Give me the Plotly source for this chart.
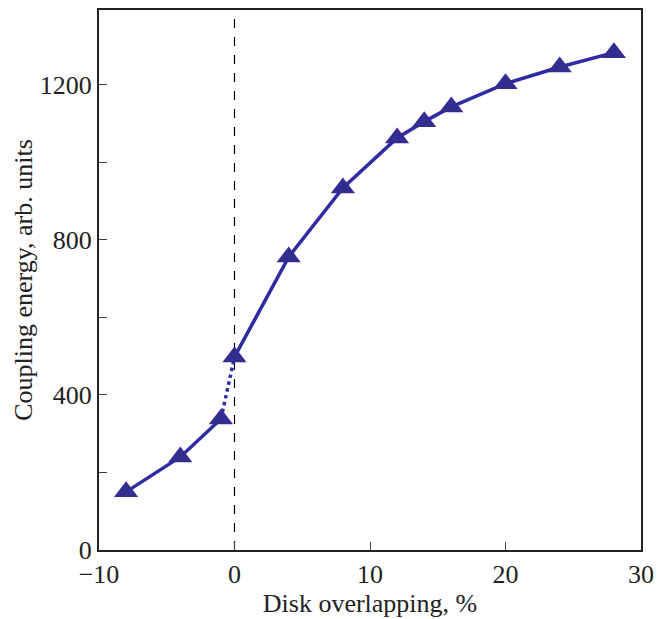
import plotly.graph_objects as go

overlap = [-8, -4, -1, 0, 4, 8, 12, 14, 16, 20, 24, 28]
energy = [150, 240, 338, 498, 756, 934, 1063, 1105, 1143, 1203, 1246, 1283]

x_ticks = [-10, 0, 10, 20, 30]
y_ticks = [0, 200, 400, 600, 800, 1000, 1200]
y_tick_text = ["0", "", "400", "", "800", "", "1200"]

line_color = "#2E2BA3"
marker_color = "#332D8F"

fig = go.Figure()
# left solid part (x <= -1)
fig.add_trace(go.Scatter(x=overlap[:3], y=energy[:3], mode="lines",
                         line=dict(color=line_color, width=3.5), showlegend=False))
# dotted connection (-1 to 0)
fig.add_trace(go.Scatter(x=overlap[2:4], y=energy[2:4], mode="lines",
                         line=dict(color=line_color, width=3.5, dash="dot"), showlegend=False))
# right solid part (x >= 0)
fig.add_trace(go.Scatter(x=overlap[3:], y=energy[3:], mode="lines",
                         line=dict(color=line_color, width=3.5), showlegend=False))
# markers
fig.add_trace(go.Scatter(x=overlap, y=energy, mode="markers",
                         marker=dict(symbol="triangle-up", size=21, color=marker_color),
                         showlegend=False))

fig.add_shape(type="line", x0=0, x1=0, y0=0, y1=1, yref="paper", xref="x",
              line=dict(color="black", width=1.2, dash="dash"), layer="below")

tick_font = dict(family="Liberation Serif, Times New Roman, serif", size=26, color="#222")
title_font = dict(family="Liberation Serif, Times New Roman, serif", size=26, color="#222")

fig.update_layout(
    width=669, height=619,
    margin=dict(l=99, r=28, t=10, b=69),
    paper_bgcolor="white", plot_bgcolor="white",
    font=tick_font,
    xaxis=dict(range=[-10, 30], tickvals=x_ticks, ticks="inside", ticklen=8,
               showline=True, linecolor="#222", linewidth=2, mirror=True,
               showgrid=False, zeroline=False, automargin=False,
               title=dict(text="Disk overlapping, %", standoff=4, font=title_font),
               tickfont=tick_font),
    yaxis=dict(range=[0, 1393], tickvals=y_ticks, ticktext=y_tick_text,
               ticks="inside", ticklen=8,
               showline=True, linecolor="#222", linewidth=2, mirror=True,
               showgrid=False, zeroline=False, automargin=False,
               title=dict(text="Coupling energy, arb. units", standoff=0, font=title_font),
               tickfont=tick_font),
)

fig.write_html("out.html", config={"displayModeBar": False},
               post_script="document.body.style.margin='0';")
